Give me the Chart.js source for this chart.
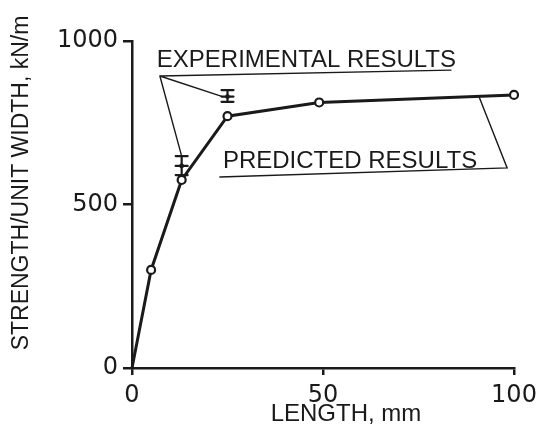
<!DOCTYPE html>
<html>
<head>
<meta charset="utf-8">
<script src="https://cdn.jsdelivr.net/npm/chart.js@4.4.0/dist/chart.umd.min.js"></script>
<style>
    html, body { margin: 0; padding: 0; background: #fff; }
</style>
</head>
<body>
<canvas id="chart" width="545" height="434"></canvas>
<script>
// Predicted results (line with open circles)
var lengths = [0, 5, 13, 25, 49, 100];
var strength = [0, 300, 575, 770, 812, 835];

// Experimental results (error bars)
var expLengths = [13, 25];
var expMean = [618, 830];
var expLow = [590, 814];
var expHigh = [648, 850];

var xTicks = [0, 50, 100];
var yTicks = [0, 500, 1000];

var ink = "#1a1a1a";
var textFont = '24px "Liberation Sans", Arial, sans-serif';

// Error bars, labels, leader lines, axis titles
var extras = {
    id: "extras",
    afterDatasetsDraw: function (chart) {
        var ctx = chart.ctx;
        var xs = chart.scales.x;
        var ys = chart.scales.y;
        var px = function (v) { return xs.getPixelForValue(v); };
        var py = function (v) { return ys.getPixelForValue(v); };

        ctx.save();
        ctx.strokeStyle = ink;
        ctx.fillStyle = ink;
        ctx.lineCap = "round";

        // error bars
        ctx.lineWidth = 2.2;
        for (var i = 0; i < expLengths.length; i++) {
            var x = px(expLengths[i]);
            var t = py(expHigh[i]), b = py(expLow[i]), m = py(expMean[i]);
            ctx.beginPath();
            ctx.moveTo(x, t); ctx.lineTo(x, b);
            [t, m, b].forEach(function (yy) {
                ctx.moveTo(x - 6, yy); ctx.lineTo(x + 6, yy);
            });
            ctx.stroke();
            ctx.beginPath();
            ctx.arc(x, m, 2.4, 0, Math.PI * 2);
            ctx.fill();
        }

        // experimental label + leaders
        ctx.lineWidth = 1.4;
        var ex0 = { x: px(7.3), y: py(893) };
        ctx.beginPath();
        ctx.moveTo(ex0.x, ex0.y); ctx.lineTo(px(83.5), py(911));
        ctx.moveTo(ex0.x, ex0.y); ctx.lineTo(px(expLengths[1]) - 5, py(expMean[1]));
        ctx.moveTo(ex0.x, ex0.y); ctx.lineTo(px(expLengths[0]), py(expHigh[0]));
        ctx.stroke();

        // predicted label + leader
        ctx.beginPath();
        ctx.moveTo(px(23), py(584)); ctx.lineTo(px(98.2), py(612));
        ctx.lineTo(px(90.8), py(831));
        ctx.stroke();

        ctx.font = textFont;
        ctx.textAlign = "left";
        ctx.textBaseline = "alphabetic";
        ctx.fillText("EXPERIMENTAL RESULTS", px(6.5), py(920));
        ctx.fillText("PREDICTED RESULTS", px(23.8), py(612));

        // axis titles
        ctx.textAlign = "center";
        ctx.textBaseline = "middle";
        ctx.fillText("LENGTH, mm", 346, 414);
        ctx.font = '23px "Liberation Sans", Arial, sans-serif';
        ctx.translate(22, 183);
        ctx.rotate(-Math.PI / 2);
        ctx.fillText("STRENGTH/UNIT WIDTH, kN/m", 0, 0);
        ctx.restore();
    },
};

var tickFont = { family: '"DejaVu Sans", sans-serif', size: 24 };

var ctx = document.getElementById("chart").getContext("2d");
var myChart = new Chart(ctx, {
    type: "line",
    data: {
        datasets: [
            {
                label: "Predicted results",
                data: lengths.map(function (v, i) { return { x: v, y: strength[i] }; }),
                borderColor: ink,
                borderWidth: 3,
                tension: 0,
                fill: false,
                clip: false,
                pointRadius: [0, 4, 4, 4, 4, 4],
                pointBackgroundColor: "#fff",
                pointBorderColor: ink,
                pointBorderWidth: 2.2,
            },
        ],
    },
    options: {
        responsive: false,
        animation: false,
        layout: { padding: { left: 0, top: 41, right: 31, bottom: 0 } },
        scales: {
            x: {
                type: "linear",
                min: 0,
                max: 100,
                afterBuildTicks: function (axis) {
                    axis.ticks = xTicks.map(function (v) { return { value: v }; });
                },
                afterFit: function (scale) { scale.height = 66; },
                grid: { drawOnChartArea: false, color: ink, lineWidth: 2.5, tickLength: 7 },
                border: { display: true, color: ink, width: 2.5 },
                ticks: {
                    color: ink,
                    padding: 6,
                    maxRotation: 0,
                    font: tickFont,
                    callback: function (v) { return String(v); },
                },
            },
            y: {
                min: 0,
                max: 1000,
                afterBuildTicks: function (axis) {
                    axis.ticks = yTicks.map(function (v) { return { value: v }; });
                },
                afterFit: function (scale) { scale.width = 132; },
                grid: { drawOnChartArea: false, color: ink, lineWidth: 2.5, tickLength: 9 },
                border: { display: true, color: ink, width: 2.5 },
                ticks: {
                    color: ink,
                    padding: 5,
                    font: tickFont,
                    callback: function (v) { return String(v); },
                },
            },
        },
        plugins: {
            legend: { display: false },
            tooltip: { enabled: false },
        },
    },
    plugins: [extras],
});
</script>
</body>
</html>
